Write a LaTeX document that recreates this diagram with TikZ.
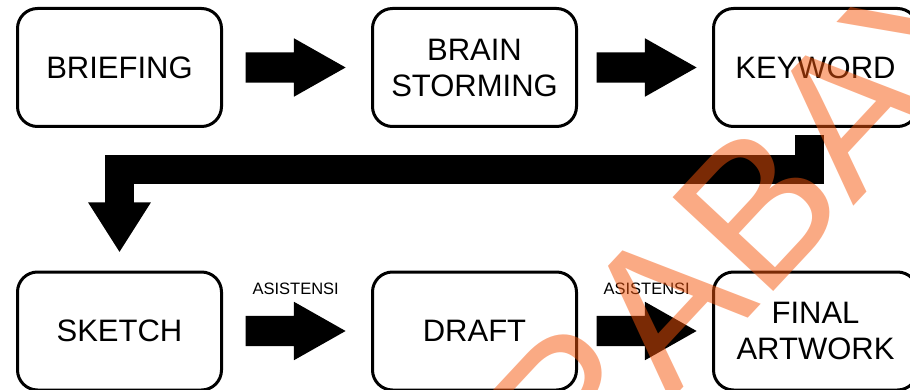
\documentclass[tikz,border=0pt]{standalone}
\usepackage{fontspec}
\setmainfont{Liberation Sans}
\usetikzlibrary{shapes.arrows,arrows.meta,calc}
\definecolor{wmorange}{RGB}{245,85,10}

\begin{document}
\begin{tikzpicture}[x=1pt,y=-1pt]
			\tikzstyle{stage} = [draw, line width=3pt, rounded corners=20pt,
				minimum width=204pt, minimum height=118pt, align=center,
				font=\fontsize{31}{36}\selectfont]
			\tikzstyle{blockarrow} = [single arrow, fill=black, inner xsep=0pt, inner ysep=15pt,
				minimum height=100pt, minimum width=58pt, anchor=tip,
				single arrow head extend=14pt, single arrow tip angle=59]
			\tikzstyle{note} = [inner sep=0pt, font=\fontsize{16.5}{18}\selectfont]
			\tikzstyle{elbow} = [draw, line width=29pt, -{Triangle[length=50pt,width=59pt]}]
			\tikzstyle{watermark} = [inner sep=0pt, rotate=47, text=wmorange, text opacity=0.5,
				font=\fontsize{200}{210}\selectfont]

			\useasboundingbox (0,0) rectangle (910,390);
			\clip (0,0) rectangle (910,390);

			\node(Briefing)[stage] at (119.5,67.5) {BRIEFING};
			\tikzset{node distance = 355pt}
			\node(BrainStorming)[stage,right of = Briefing]{BRAIN\\STORMING};
			\tikzset{node distance = 341pt}
			\node(Keyword)[stage,right of = BrainStorming]{KEYWORD};
			\tikzset{node distance = 263.5pt}
			\node(Sketch)[stage,below of = Briefing]{SKETCH};
			\tikzset{node distance = 355pt}
			\node(Draft)[stage,right of = Sketch]{DRAFT};
			\tikzset{node distance = 341pt}
			\node(FinalArtwork)[stage,right of = Draft]{FINAL\\ARTWORK};

			% block arrows between the stages
			\node(ArrowBB)[blockarrow] at ($(BrainStorming.west)+(-25,0)$) {};
			\node(ArrowBK)[blockarrow] at ($(Keyword.west)+(-15,0)$) {};
			\node(ArrowSD)[blockarrow] at ($(Draft.west)+(-25,0)$) {};
			\node(ArrowDF)[blockarrow] at ($(FinalArtwork.west)+(-15,0)$) {};
			\node(AsisSD)[note] at ($(ArrowSD.tail)!0.5!(ArrowSD.tip)+(0,-42)$) {ASISTENSI};
			\node(AsisDF)[note] at ($(ArrowDF.tail)!0.5!(ArrowDF.tip)+(0,-42)$) {ASISTENSI};

			% keyword back down to sketch
			\coordinate(KeywordOut) at ($(Keyword.south)+(-6,7)$);
			\draw[elbow] (KeywordOut) -- ++(0,34.5) -| ([yshift=18pt]Sketch.north);

			\node(WmTail)[watermark,anchor=base west] at (762,304) {BAYA};
			\node(WmHead)[watermark,anchor=base east] at (762,304) {SURA};

		\end{tikzpicture}
\end{document}
